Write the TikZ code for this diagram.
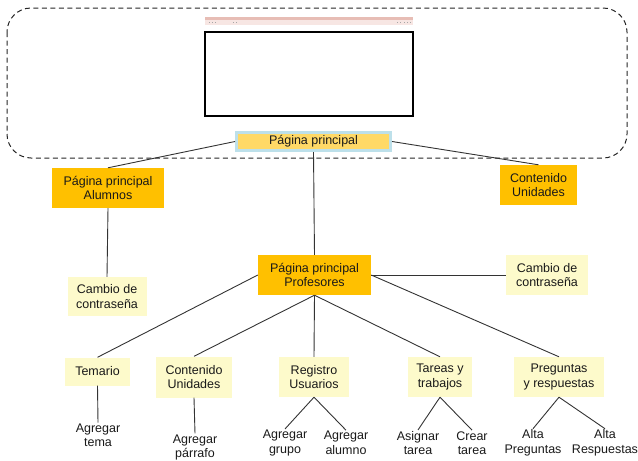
\documentclass[tikz,border=0pt]{standalone}
\usepackage{fontspec}
\setmainfont{Liberation Sans}
\begin{document}
\begin{tikzpicture}[x=1pt,y=-1pt,
  txt/.style={font=\fontsize{12.5}{14.5}\selectfont, align=center, text=black!90},
  orangebox/.style={txt, fill=orangec, inner sep=2pt},
  paleboxs/.style={txt, fill=palec, inner sep=2pt},
  leaf/.style={txt, inner sep=1pt},
  conn/.style={draw=linec, line width=0.9pt}
]
\definecolor{orangec}{HTML}{FFC000}
\definecolor{palec}{HTML}{FDFACB}
\definecolor{linec}{HTML}{333333}
\definecolor{ppfill}{HTML}{FFD966}
\definecolor{ppband}{HTML}{BDE0EA}
\definecolor{pinkbar}{HTML}{E7BDB5}
\definecolor{pinkrow}{HTML}{F7E6E3}
\useasboundingbox (0,0) rectangle (638,461);

% dashed frame
\draw[draw=black!85, line width=1pt, dash pattern=on 5pt off 3.5pt, rounded corners=24pt] (7,8) rectangle (627,158);

% browser mock-up
\fill[pinkbar] (205,16.5) rectangle (413,19.5);
\fill[pinkrow] (205,19.5) rectangle (413,25);
\foreach \xx in {209,212,215,233,236,397,400,404,407,410}
  \fill[black!35] (\xx,21.5) rectangle +(1.3,1.3);
\draw[black, line width=1.6pt] (205,32) rectangle (413,116);

% nodes
\node[txt, fill=ppfill, draw=ppband, line width=3pt, minimum width=154pt, minimum height=18pt, inner sep=0pt] (pp) at (313.5,141.5) {Página principal};
\node[orangebox, minimum width=112pt, minimum height=40pt] (alu) at (108,188) {Página principal\\Alumnos};
\node[orangebox, minimum width=77pt, minimum height=40pt] (cu1) at (538.5,185) {Contenido\\Unidades};
\node[paleboxs, minimum width=79pt, minimum height=39pt] (cam1) at (107,296.5) {Cambio de\\contraseña};
\node[orangebox, minimum width=113pt, minimum height=40pt] (prof) at (314.5,275) {Página principal\\Profesores};
\node[paleboxs, minimum width=82pt, minimum height=40pt] (cam2) at (547,275) {Cambio de\\contraseña};
\node[paleboxs, minimum width=65pt, minimum height=28pt] (tem) at (97.5,371.5) {Temario};
\node[paleboxs, minimum width=76pt, minimum height=41pt] (cu2) at (194,377) {Contenido\\Unidades};
\node[paleboxs, minimum width=70pt, minimum height=40pt] (reg) at (314,377) {Registro\\Usuarios};
\node[paleboxs, minimum width=64pt, minimum height=40pt] (tar) at (440,377) {Tareas y\\trabajos};
\node[paleboxs, minimum width=90pt, minimum height=40pt] (pre) at (559,377) {Preguntas\\y respuestas};

\node[leaf] (l1) at (98,435.5) {Agregar\\tema};
\node[leaf] (l2) at (195,447.5) {Agregar\\párrafo};
\node[leaf] (l3) at (285,443) {Agregar\\grupo};
\node[leaf] (l4) at (346,443) {Agregar\\alumno};
\node[leaf] (l5) at (418,443) {Asignar\\tarea};
\node[leaf] (l6) at (472,443) {Crear\\tarea};
\node[leaf] (l7) at (533,443) {Alta\\Preguntas};
\node[leaf] (l8) at (605,443) {Alta\\Respuestas};

% connectors
\draw[conn] (pp.west) -- (alu.north);
\draw[conn] (pp.east) -- (cu1.north);
\draw[conn] (pp.south) -- (prof.north);
\draw[conn] (alu.south) -- (cam1.north);
\draw[conn] (prof.east) -- (cam2.west);
\draw[conn] (prof.west) -- (tem.north);
\draw[conn] (prof.south) -- (cu2.north);
\draw[conn] (prof.south) -- (reg.north);
\draw[conn] (prof.south) -- (tar.north);
\draw[conn] (prof.east) -- (pre.north);
\draw[conn] (tem.south) -- (l1.north);
\draw[conn] (cu2.south) -- (l2.north);
\draw[conn] (reg.south) -- (l3.north);
\draw[conn] (reg.south) -- (l4.north);
\draw[conn] (tar.south) -- (l5.north);
\draw[conn] (tar.south) -- (l6.north);
\draw[conn] (pre.south) -- (l7.north);
\draw[conn] (pre.south) -- (l8.north);
\end{tikzpicture}
\end{document}
